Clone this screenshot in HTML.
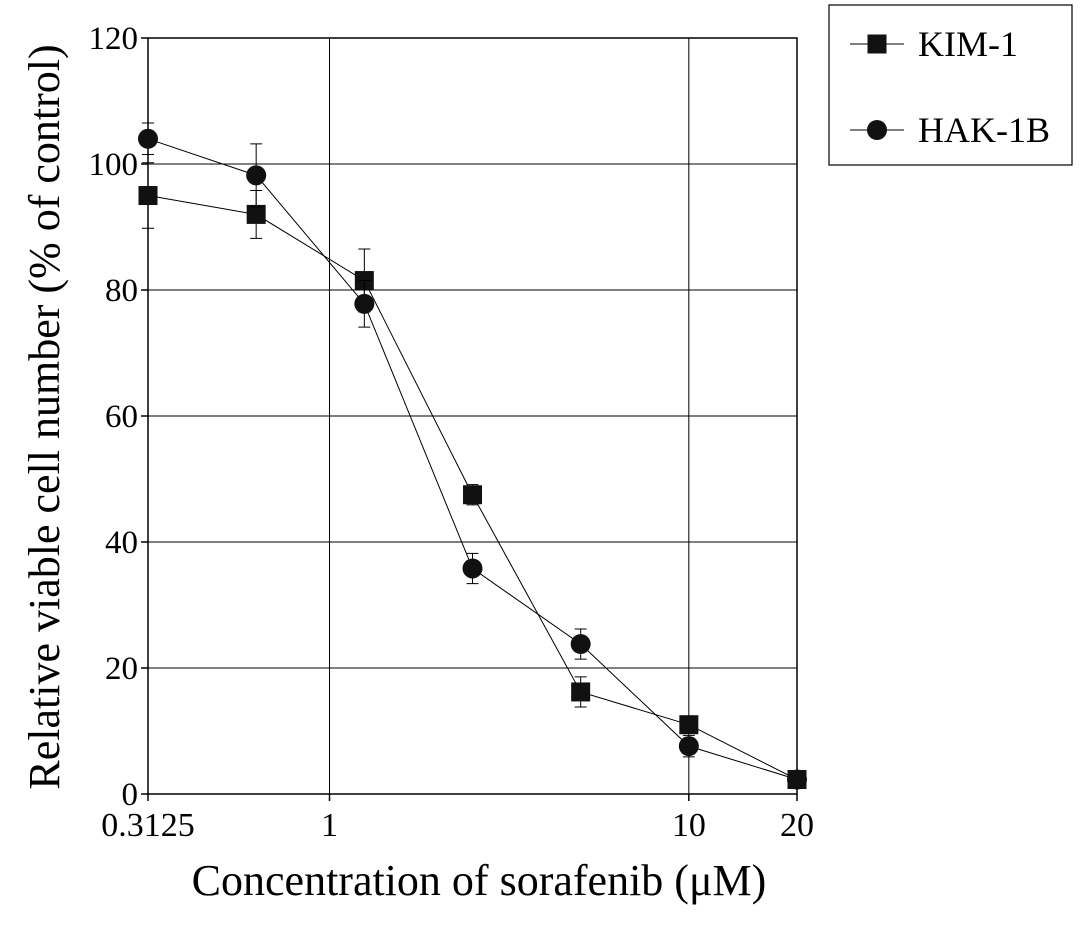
<!DOCTYPE html>
<html><head><meta charset="utf-8"><style>
body{margin:0;background:#fff;}
svg{display:block;font-family:"Liberation Serif",serif;}
</style></head><body>
<svg id="chart" width="1087" height="927"></svg>
<script>
const concentrations=[0.3125,0.625,1.25,2.5,5,10,20];
const kimValues=[95,92,81.5,47.5,16.2,11,2.3];
const kimErrors=[5.2,3.8,5,1.6,2.4,1.2,0.6];
const hakValues=[104,98.2,77.8,35.8,23.8,7.6,2.3];
const hakErrors=[2.5,5,3.7,2.4,2.4,1.7,0.6];
const yTicks=[0,20,40,60,80,100,120];
const xTicks=[0.3125,1,10,20];
const xTickLabels=["0.3125","1","10","20"];

const L=148,R=797,T=38,B=794;
const lx0=Math.log10(0.3125),lx1=Math.log10(20);
const xs=v=>L+(Math.log10(v)-lx0)/(lx1-lx0)*(R-L);
const ys=v=>B-v/120*(B-T);
const svg=document.getElementById('chart');
const NS='http://www.w3.org/2000/svg';
function mk(tag,attrs,parent){const e=document.createElementNS(NS,tag);for(const k in attrs)e.setAttribute(k,attrs[k]);(parent||svg).appendChild(e);return e;}

yTicks.forEach(t=>{
 const g=mk('line',{x1:L,x2:R,y1:ys(t),y2:ys(t),stroke:'#000','stroke-width':1});
 
 
 const tk=mk('line',{x1:L-7,x2:L,y1:ys(t),y2:ys(t),stroke:'#000','stroke-width':1.5});
 
 
 const tx=mk('text',{x:L-10,y:ys(t)+11,'text-anchor':'end','font-size':33});
 tx.textContent=t;
 
 
});
[1,10].forEach(v=>{
 const g=mk('line',{x1:xs(v),x2:xs(v),y1:T,y2:B,stroke:'#000','stroke-width':1});
 
 
});
xTicks.forEach((v,i)=>{
 const tk=mk('line',{x1:xs(v),x2:xs(v),y1:B,y2:B+7,stroke:'#000','stroke-width':1.5});
 
 
 const tx=mk('text',{x:xs(v),y:B+42,'text-anchor':'middle','font-size':34});
 tx.textContent=xTickLabels[i];
 
 
});
const frame=mk('rect',{x:L,y:T,width:R-L,height:B-T,fill:'none',stroke:'#000','stroke-width':1.5});



function series(vals,errs,shape,name){
 const pts=vals.map((v,i)=>xs(concentrations[i])+','+ys(v)).join(' ');
 const pl=mk('polyline',{points:pts,fill:'none',stroke:'#000','stroke-width':1});
 
 
 vals.forEach((v,i)=>{
  const x=xs(concentrations[i]);
  const e=mk('path',{d:`M${x},${ys(v+errs[i])}V${ys(v-errs[i])}M${x-6},${ys(v+errs[i])}h12M${x-6},${ys(v-errs[i])}h12`,stroke:'#000','stroke-width':1,fill:'none'});
  
  
  let m;
  if(shape==='square')m=mk('rect',{x:x-9.5,y:ys(v)-9.5,width:19,height:19,fill:'#111'});
  else m=mk('circle',{cx:x,cy:ys(v),r:10,fill:'#111'});
  
  
 });
}
series(kimValues,kimErrors,'square','kim-1');
series(hakValues,hakErrors,'circle','hak-1b');

const xt=mk('text',{x:479,y:895,'text-anchor':'middle','font-size':44});
xt.textContent='Concentration of sorafenib (\u03bcM)';


const yt=mk('text',{x:0,y:0,'text-anchor':'middle','font-size':44,transform:'translate(59,417) rotate(-90)'});
yt.textContent='Relative viable cell number (% of control)';



const lg=mk('g',{});


mk('rect',{x:829,y:5,width:243,height:160,fill:'#fff',stroke:'#000','stroke-width':1.2},lg);
const e1=mk('g',{},lg);


mk('line',{x1:850,x2:904,y1:44,y2:44,stroke:'#000'},e1);
mk('rect',{x:867.5,y:34.5,width:19,height:19,fill:'#111'},e1);
const t1=mk('text',{x:918,y:56,'font-size':36},e1);t1.textContent='KIM-1';
const e2=mk('g',{},lg);


mk('line',{x1:850,x2:904,y1:130,y2:130,stroke:'#000'},e2);
mk('circle',{cx:877,cy:130,r:10,fill:'#111'},e2);
const t2=mk('text',{x:918,y:142,'font-size':36},e2);t2.textContent='HAK-1B';
</script>
</body></html>
